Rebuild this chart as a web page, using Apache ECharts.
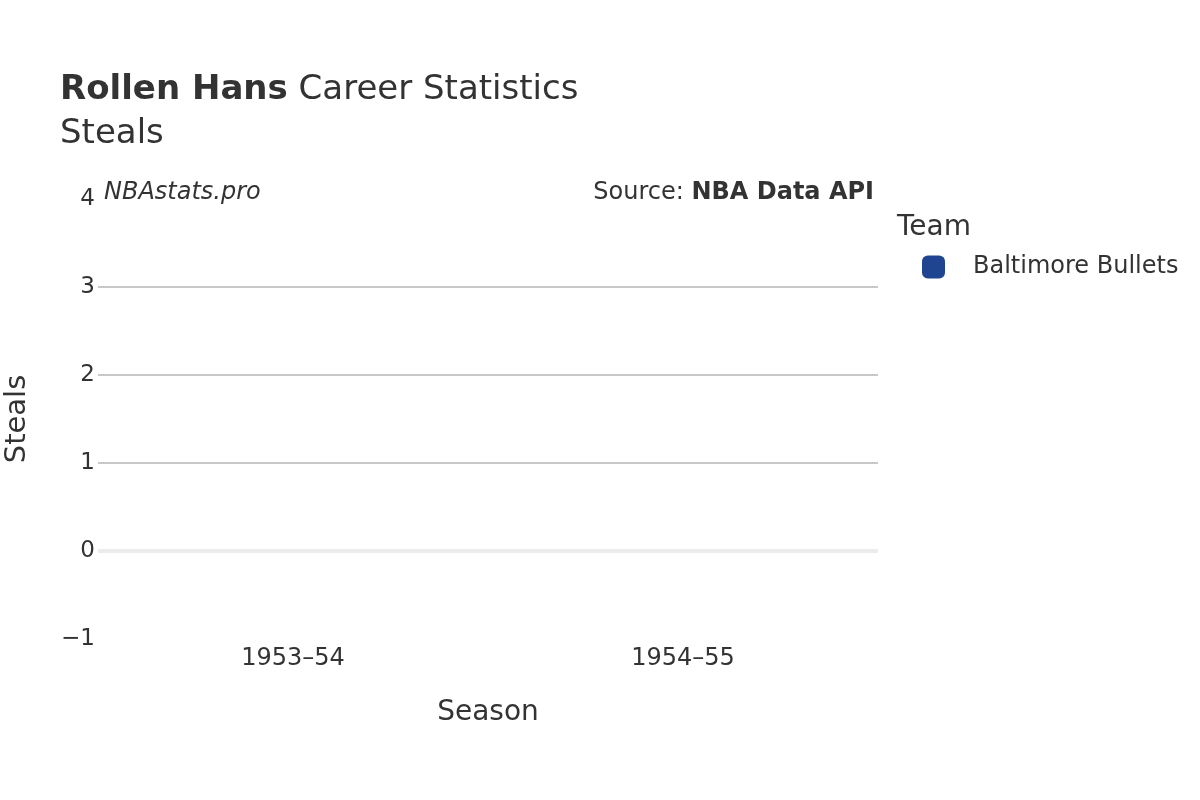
<!DOCTYPE html>
<html>
<head>
<meta charset="utf-8">
<script src="https://cdn.jsdelivr.net/npm/echarts@6/dist/echarts.min.js"></script>
<style>
  html, body { margin: 0; padding: 0; background: #fff; }
  #chart { width: 1200px; height: 800px; }
</style>
</head>
<body>
<div id="chart"></div>
<script>
var seasons = ['1953–54', '1954–55'];
var teamName = 'Baltimore Bullets';
var steals = [0, 0];
var yTicks = [-1, 0, 1, 2, 3, 4];

var font = '"DejaVu Sans", sans-serif';
var chart = echarts.init(document.getElementById('chart'));

chart.setOption({
  backgroundColor: '#fff',
  animation: false,
  textStyle: { fontFamily: font, color: '#333' },
  title: {
    left: 55,
    top: 63,
    text: '{b|Rollen Hans} Career Statistics\nSteals',
    textStyle: {
      fontFamily: font,
      fontSize: 34,
      fontWeight: 'normal',
      color: '#333',
      lineHeight: 44,
      rich: {
        b: { fontFamily: font, fontSize: 34, fontWeight: 'bold', color: '#333' }
      }
    }
  },
  grid: { left: 98, right: 322, top: 199, bottom: 161, outerBoundsMode: 'none', containLabel: false },
  legend: {
    orient: 'vertical',
    left: 917,
    top: 250,
    itemWidth: 23,
    itemHeight: 23,
    itemGap: 10,
    icon: 'roundRect',
    textStyle: { fontFamily: font, fontSize: 24, color: '#333', padding: [0, 0, 0, 23] },
    data: [teamName]
  },
  xAxis: {
    type: 'category',
    data: seasons,
    axisLine: { show: false },
    axisTick: { show: false },
    axisLabel: { fontSize: 24, color: '#333', margin: 8 },
    name: 'Season',
    nameLocation: 'middle',
    nameGap: 60,
    nameTextStyle: { fontSize: 28, color: '#333' }
  },
  yAxis: {
    type: 'value',
    min: yTicks[0],
    max: yTicks[yTicks.length - 1],
    interval: 1,
    axisLine: { show: false },
    axisTick: { show: false },
    axisLabel: {
      fontSize: 23,
      color: '#333',
      margin: 3,
      formatter: function (v) { return v < 0 ? '\u2212' + Math.abs(v) : String(v); }
    },
    splitLine: {
      lineStyle: {
        width: 2,
        color: ['rgba(0,0,0,0)', 'rgba(0,0,0,0)', '#c8c8c8', '#c8c8c8', '#c8c8c8', 'rgba(0,0,0,0)']
      }
    },
    name: 'Steals',
    nameLocation: 'middle',
    nameGap: 66,
    nameTextStyle: { fontSize: 29, color: '#333' }
  },
  series: [{
    name: teamName,
    type: 'bar',
    data: steals,
    itemStyle: { color: '#1f4590' },
    markLine: {
      silent: true,
      symbol: 'none',
      label: { show: false },
      lineStyle: { type: 'solid', color: '#ececec', width: 4 },
      data: [{ yAxis: 0 }]
    }
  }],
  graphic: [
    {
      type: 'text', left: 104, top: 181,
      style: { text: 'NBAstats.pro', font: 'italic 24px ' + font, fill: '#333' }
    },
    {
      type: 'text', right: 326, top: 181,
      style: {
        text: 'Source: {b|NBA Data API}',
        font: '24px ' + font, fill: '#333',
        rich: { b: { font: 'bold 24px ' + font, fill: '#333' } }
      }
    },
    {
      type: 'text', left: 897, top: 214,
      style: { text: 'Team', font: '28px ' + font, fill: '#333' }
    }
  ]
});
</script>
</body>
</html>
